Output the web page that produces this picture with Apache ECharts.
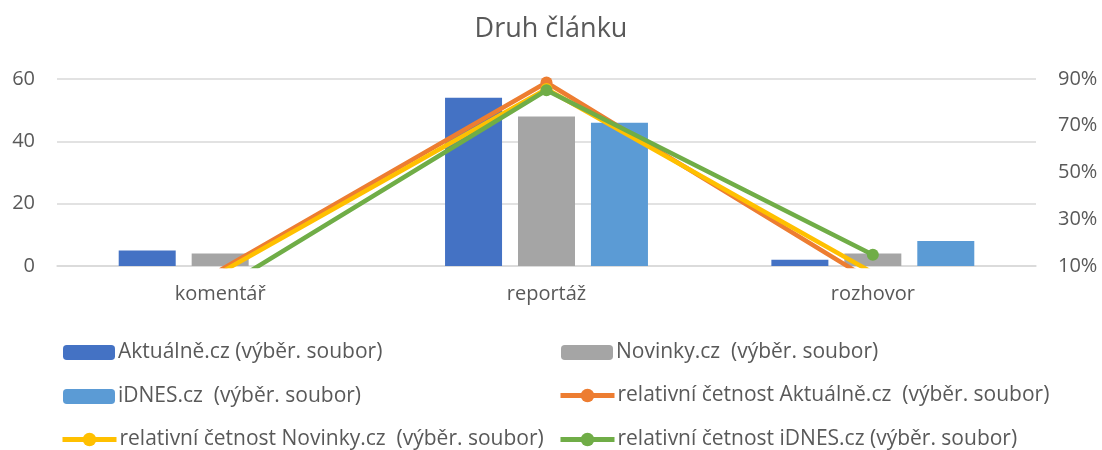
<!DOCTYPE html>
<html>
<head>
    <meta charset="utf-8">
    <title>Druh článku</title>
    <script src="https://cdn.jsdelivr.net/npm/echarts@6/dist/echarts.min.js"></script>
</head>
<body style="margin:0">
    <div id="main" style="width:1102px;height:450px"></div>
    <script type="text/javascript">

        const CATEGORIES = ['komentář', 'reportáž', 'rozhovor'];

        // absolutní četnosti (levá osa)
        const AKTUALNE = [5, 54, 2];
        const NOVINKY = [4, 48, 4];
        const IDNES = [0, 46, 8];

        // relativní četnosti v % (pravá osa)
        const REL_AKTUALNE = [8.2, 88.5, 3.3];
        const REL_NOVINKY = [7.1, 85.7, 7.1];
        const REL_IDNES = [0, 85.2, 14.8];

        const BAR_NAMES = ['Aktuálně.cz (výběr. soubor)', 'Novinky.cz  (výběr. soubor)', 'iDNES.cz  (výběr. soubor)'];
        const LINE_NAMES = ['relativní četnost Aktuálně.cz  (výběr. soubor)', 'relativní četnost Novinky.cz  (výběr. soubor)', 'relativní četnost iDNES.cz (výběr. soubor)'];

        const FONT = 'Open Sans';
        const TEXT_COLOR = '#595959';
        const GRID_COLOR = '#d9d9d9';

        let myChart = echarts.init(document.getElementById('main'));

        function barSeries(name, data, color) {
            return {
                name: name,
                type: 'bar',
                data: data,
                barWidth: 57,
                barGap: '28%',
                itemStyle: {color: color},
                z: 2
            };
        }

        function lineSeries(name, data, color, z) {
            return {
                name: name,
                type: 'line',
                yAxisIndex: 1,
                data: data,
                symbol: 'circle',
                symbolSize: 12,
                lineStyle: {color: color, width: 4.5},
                itemStyle: {color: color},
                clip: true,
                z: z
            };
        }

        function legendItem(name, left, top, isLine) {
            return {
                data: [name],
                left: left,
                top: top,
                itemWidth: isLine ? 54 : 52,
                itemHeight: isLine ? 17 : 15,
                itemGap: 0,
                padding: 0,
                lineStyle: {width: 5},
                textStyle: {fontFamily: FONT, fontSize: 21, color: TEXT_COLOR, padding: [0, 0, 0, -2]}
            };
        }

        let option = {
            animation: false,
            title: {
                text: 'Druh článku',
                left: 'center',
                top: 11,
                textStyle: {fontFamily: FONT, fontSize: 27, fontWeight: 'normal', color: TEXT_COLOR}
            },
            legend: [
                legendItem(BAR_NAMES[0], 63, 342, false),
                legendItem(BAR_NAMES[1], 561, 342, false),
                legendItem(BAR_NAMES[2], 63, 386, false),
                legendItem(LINE_NAMES[0], 558, 385, true),
                legendItem(LINE_NAMES[1], 60, 429, true),
                legendItem(LINE_NAMES[2], 558, 429, true)
            ],
            grid: {left: 57, right: 66, top: 79, bottom: 184, containLabel: false, outerBoundsMode: 'none'},
            xAxis: {
                type: 'category',
                data: CATEGORIES,
                axisLine: {lineStyle: {color: GRID_COLOR, width: 1.5}},
                axisTick: {show: false},
                axisLabel: {fontFamily: FONT, fontSize: 20, color: TEXT_COLOR, margin: 18}
            },
            yAxis: [
                {
                    type: 'value',
                    min: 0,
                    max: 60,
                    interval: 20,
                    axisLine: {show: false},
                    axisTick: {show: false},
                    splitLine: {lineStyle: {color: GRID_COLOR, width: 1.5}},
                    axisLabel: {fontFamily: FONT, fontSize: 20, color: TEXT_COLOR, margin: 22}
                },
                {
                    type: 'value',
                    min: 10,
                    max: 90,
                    interval: 20,
                    position: 'right',
                    axisLine: {show: false},
                    axisTick: {show: false},
                    splitLine: {show: false},
                    axisLabel: {fontFamily: FONT, fontSize: 20, color: TEXT_COLOR, margin: 22, formatter: '{value}%'}
                }
            ],
            series: [
                barSeries(BAR_NAMES[0], AKTUALNE, '#4472c4'),
                barSeries(BAR_NAMES[1], NOVINKY, '#a5a5a5'),
                barSeries(BAR_NAMES[2], IDNES, '#5b9bd5'),
                lineSeries(LINE_NAMES[0], REL_AKTUALNE, '#ed7d31', 3),
                lineSeries(LINE_NAMES[1], REL_NOVINKY, '#ffc000', 4),
                lineSeries(LINE_NAMES[2], REL_IDNES, '#70ad47', 5)
            ]
        };

        myChart.setOption(option);

    </script>
</body>
</html>
